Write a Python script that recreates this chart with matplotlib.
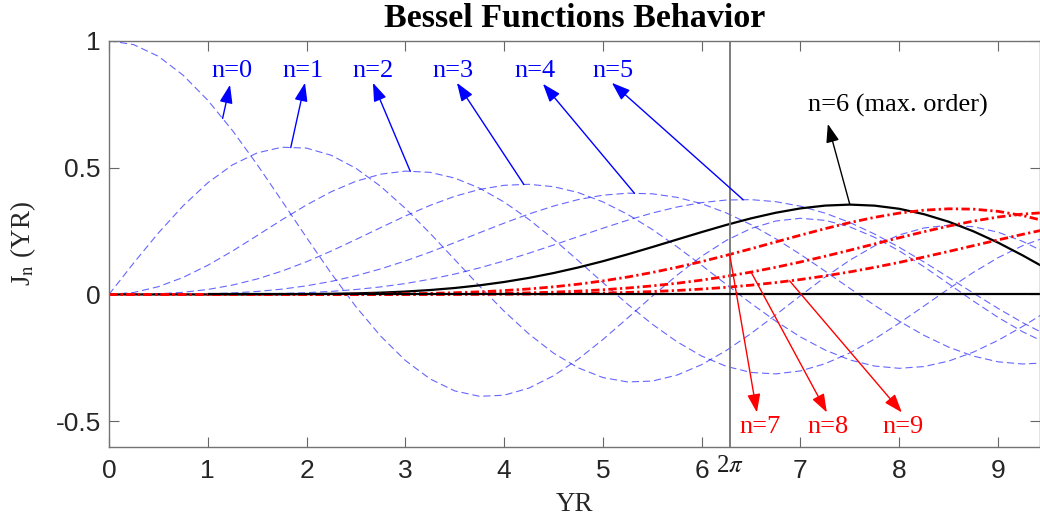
import numpy as np
import matplotlib
matplotlib.use('Agg')
import matplotlib.pyplot as plt
from matplotlib.transforms import blended_transform_factory

# argument of the Bessel functions, step 0.25
yr = np.arange(0, 9.6, 0.25)

j0 = [1.0000, 0.9844, 0.9385, 0.8642, 0.7652, 0.6459, 0.5118, 0.3690, 0.2239, 0.0827,
      -0.0484, -0.1641, -0.2601, -0.3328, -0.3801, -0.4014, -0.3971, -0.3692, -0.3205, -0.2551,
      -0.1776, -0.0931, -0.0068, 0.0758, 0.1506, 0.2131, 0.2601, 0.2894, 0.3001, 0.2920,
      0.2663, 0.2251, 0.1717, 0.1092, 0.0419, -0.0259, -0.0903, -0.1473, -0.1939]
j1 = [0.0000, 0.1240, 0.2423, 0.3492, 0.4401, 0.5106, 0.5579, 0.5802, 0.5767, 0.5484,
      0.4971, 0.4260, 0.3391, 0.2411, 0.1374, 0.0332, -0.0660, -0.1555, -0.2311, -0.2892,
      -0.3276, -0.3448, -0.3414, -0.3178, -0.2767, -0.2206, -0.1538, -0.0803, -0.0047, 0.0685,
      0.1352, 0.1914, 0.2346, 0.2620, 0.2731, 0.2670, 0.2453, 0.2090, 0.1613]
j2 = [0.0000, 0.0078, 0.0306, 0.0671, 0.1149, 0.1711, 0.2321, 0.2941, 0.3528, 0.4048,
      0.4461, 0.4739, 0.4861, 0.4812, 0.4586, 0.4191, 0.3641, 0.2960, 0.2178, 0.1333,
      0.0466, -0.0383, -0.1173, -0.1864, -0.2429, -0.2835, -0.3074, -0.3131, -0.3014, -0.2729,
      -0.2303, -0.1757, -0.1130, -0.0457, 0.0223, 0.0869, 0.1448, 0.1925, 0.2279]
j3 = [0.0000, 0.0003, 0.0026, 0.0085, 0.0196, 0.0369, 0.0610, 0.0919, 0.1289, 0.1711,
      0.2166, 0.2633, 0.3091, 0.3510, 0.3868, 0.4138, 0.4302, 0.4341, 0.4247, 0.4015,
      0.3648, 0.3157, 0.2561, 0.1881, 0.1148, 0.0391, -0.0354, -0.1052, -0.1676, -0.2191,
      -0.2581, -0.2822, -0.2911, -0.2842, -0.2626, -0.2273, -0.1809, -0.1258, -0.0653]
j4 = [0.0000, 0.0000, 0.0002, 0.0008, 0.0025, 0.0059, 0.0118, 0.0209, 0.0340, 0.0515,
      0.0738, 0.1007, 0.1320, 0.1669, 0.2044, 0.2430, 0.2811, 0.3169, 0.3484, 0.3739,
      0.3912, 0.3991, 0.3966, 0.3827, 0.3576, 0.3212, 0.2748, 0.2196, 0.1578, 0.0916,
      0.0238, -0.0428, -0.1054, -0.1611, -0.2077, -0.2429, -0.2655, -0.2741, -0.2691]
j5 = [0.0000, 0.0000, 0.0000, 0.0001, 0.0002, 0.0007, 0.0018, 0.0038, 0.0070, 0.0121,
      0.0195, 0.0297, 0.0430, 0.0599, 0.0804, 0.1046, 0.1321, 0.1624, 0.1947, 0.2281,
      0.2611, 0.2926, 0.3209, 0.3445, 0.3621, 0.3721, 0.3736, 0.3656, 0.3479, 0.3203,
      0.2835, 0.2381, 0.1858, 0.1280, 0.0671, 0.0053, -0.0550, -0.1113, -0.1613]
j6 = [0.0000, 0.0000, 0.0000, 0.0000, 0.0000, 0.0001, 0.0002, 0.0006, 0.0012, 0.0023,
      0.0042, 0.0071, 0.0114, 0.0174, 0.0254, 0.0359, 0.0491, 0.0652, 0.0843, 0.1063,
      0.1310, 0.1581, 0.1868, 0.2164, 0.2458, 0.2741, 0.2999, 0.3220, 0.3392, 0.3502,
      0.3541, 0.3500, 0.3376, 0.3163, 0.2867, 0.2489, 0.2043, 0.1538, 0.0993]
j7 = [0.0000, 0.0000, 0.0000, 0.0000, 0.0000, 0.0000, 0.0000, 0.0001, 0.0002, 0.0004,
      0.0008, 0.0015, 0.0025, 0.0042, 0.0067, 0.0103, 0.0152, 0.0217, 0.0300, 0.0405,
      0.0534, 0.0687, 0.0866, 0.1070, 0.1296, 0.1542, 0.1801, 0.2069, 0.2336, 0.2594,
      0.2832, 0.3039, 0.3206, 0.3321, 0.3376, 0.3362, 0.3275, 0.3109, 0.2868]
j8 = [0.0000, 0.0000, 0.0000, 0.0000, 0.0000, 0.0000, 0.0000, 0.0000, 0.0000, 0.0001,
      0.0001, 0.0003, 0.0005, 0.0009, 0.0015, 0.0025, 0.0040, 0.0062, 0.0091, 0.0131,
      0.0184, 0.0253, 0.0338, 0.0441, 0.0565, 0.0712, 0.0881, 0.1071, 0.1280, 0.1506,
      0.1744, 0.1990, 0.2235, 0.2472, 0.2694, 0.2890, 0.3051, 0.3168, 0.3233]
j9 = [0.0000, 0.0000, 0.0000, 0.0000, 0.0000, 0.0000, 0.0000, 0.0000, 0.0000, 0.0000,
      0.0000, 0.0000, 0.0001, 0.0002, 0.0003, 0.0006, 0.0009, 0.0015, 0.0024, 0.0037,
      0.0055, 0.0080, 0.0114, 0.0157, 0.0212, 0.0281, 0.0366, 0.0469, 0.0589, 0.0730,
      0.0889, 0.1068, 0.1263, 0.1474, 0.1695, 0.1922, 0.2149, 0.2370, 0.2577]

low_orders = [j0, j1, j2, j3, j4, j5]
high_orders = [j7, j8, j9]

low_labels = ['n=0', 'n=1', 'n=2', 'n=3', 'n=4', 'n=5']
max_label = 'n=6 (max. order)'
high_labels = ['n=7', 'n=8', 'n=9']

# where each arrow leaves its curve (YR value)
low_tail_x = [1.15, 1.84, 3.05, 4.20, 5.32, 6.42]
max_tail_x = 7.50
high_tail_x = [2 * np.pi, 6.50, 6.89]

# label positions (centre x, baseline y) and arrow head positions
low_text = [(1.245, 0.858), (1.964, 0.858), (2.677, 0.858), (3.482, 0.858), (4.312, 0.858), (5.101, 0.858)]
low_head = [(1.225, 0.826), (1.984, 0.834), (2.672, 0.834), (3.522, 0.834), (4.393, 0.830), (5.091, 0.834)]
max_text = (7.981, 0.720)
max_head = (7.277, 0.672)
high_text = [(6.589, -0.546), (7.282, -0.546), (8.042, -0.546)]
high_head = [(6.559, -0.465), (7.267, -0.465), (8.026, -0.465)]

plt.rcParams['font.family'] = 'Liberation Sans'
plt.rcParams['mathtext.fontset'] = 'stix'
plt.rcParams['axes.unicode_minus'] = False
serif = 'Liberation Serif'

fig = plt.figure(figsize=(10.4, 5.28), dpi=100)
ax = fig.add_axes([109 / 1040, (528 - 446.7) / 528, 931 / 1040, 406 / 528])

for jn in low_orders:
    ax.plot(yr, jn, color='blue', lw=0.8, alpha=0.6, dashes=(6.5, 3.5))
ax.plot(yr, j6, color='black', lw=1.6)
for jn in high_orders:
    ax.plot(yr, jn, color='red', lw=2.0, dashes=(3, 1.2, 0.8, 1.2))

ax.axvline(2 * np.pi, color='0.45', lw=1.3)
ax.hlines(0, 1, 3 * np.pi, color='black', lw=1.6)

def arrow(head, tail_x, curve, color):
    tail = (tail_x, np.interp(tail_x, yr, curve))
    ax.annotate('', xy=head, xytext=tail,
                arrowprops=dict(arrowstyle='-|>,head_length=0.7,head_width=0.25',
                                color=color, lw=1.0, shrinkA=0, shrinkB=0,
                                mutation_scale=16))

for jn, lab, tx, pos, head in zip(low_orders, low_labels, low_tail_x, low_text, low_head):
    arrow(head, tx, jn, 'blue')
    ax.text(pos[0], pos[1], lab, color='blue', fontsize=19, family=serif,
            ha='center', va='baseline')

arrow(max_head, max_tail_x, j6, 'black')
ax.text(max_text[0], max_text[1], max_label, color='black', fontsize=19, family=serif,
        ha='center', va='baseline')

for jn, lab, tx, pos, head in zip(high_orders, high_labels, high_tail_x, high_text, high_head):
    arrow(head, tx, jn, 'red')
    ax.text(pos[0], pos[1], lab, color='red', fontsize=19, family=serif,
            ha='center', va='baseline')

ax.set_xlim(0, 3 * np.pi)
ax.set_ylim(-0.6, 1)
ax.set_xticks(range(10))
ax.set_xticklabels([str(i) for i in range(10)])
ax.set_yticks([-0.5, 0, 0.5, 1])
ax.set_yticklabels(['-0.5', '0', '0.5', '1'])
ax.tick_params(direction='in', length=7, width=0.8, top=True, right=True,
               labelsize=19, color='0.4', labelcolor='0.15')
ax.tick_params(axis='x', pad=9)
ax.tick_params(axis='y', pad=6)
for sp in ax.spines.values():
    sp.set_color('0.45')
    sp.set_linewidth(1.0)

# 2*pi marker under the axis
trans = blended_transform_factory(ax.transData, ax.transAxes)
ax.text(2 * np.pi, -0.062, r'2$\pi$', transform=trans, fontsize=18, family=serif,
        ha='center', va='baseline', color='0.1')

ax.set_xlabel('YR', fontsize=19.5, family=serif, color='0.15')
ax.xaxis.set_label_coords(0.5, -0.112)
ax.set_ylabel(r'J$_{\mathrm{n}}$ (YR)', fontsize=19.5, family=serif, color='0.15')
ax.yaxis.set_label_coords(-0.076, 0.5)
ax.set_title('Bessel Functions Behavior', fontsize=24.5, family=serif, fontweight='bold',
             y=1.0337, pad=0)

fig.savefig('out.png', dpi=100)
